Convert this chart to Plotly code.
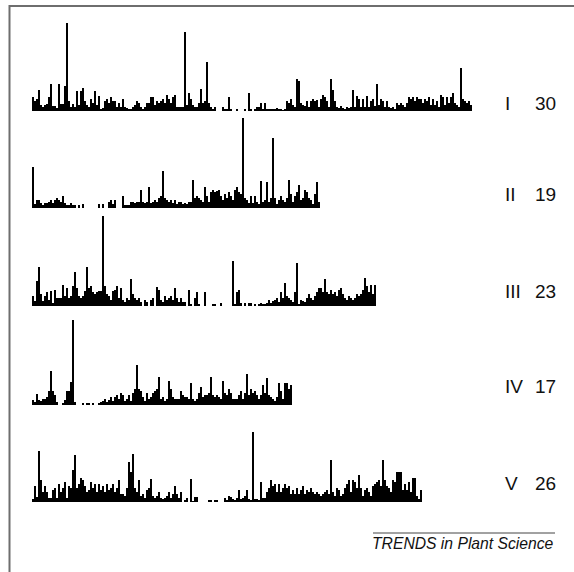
import plotly.graph_objects as go

# Marker counts per bin along each chromosome (bin index = position along chromosome)
chr_I = [14,10,12,21,6,4,6,7,14,27,
 5,5,3,27,7,7,25,88,10,4,
 7,4,20,6,20,23,10,6,4,12,
 8,20,6,15,2,3,10,12,8,14,
 10,10,4,8,4,12,4,3,2,2,
 4,6,10,8,4,2,4,8,8,14,
 14,6,10,8,10,12,8,16,12,8,
 14,16,4,4,4,4,79,6,18,12,
 6,4,4,8,22,8,10,49,8,4,
 2,4,0,0,0,4,2,2,14,2,
 0,0,2,0,0,0,2,0,18,2,
 0,2,4,4,8,2,8,2,2,2,
 2,2,3,2,2,1,2,10,8,12,
 6,4,32,30,8,6,5,10,4,10,
 12,10,11,4,12,16,14,10,4,32,
 21,10,4,3,5,3,2,4,3,4,
 21,4,15,12,4,12,4,15,4,10,
 12,5,27,6,12,10,4,10,4,3,
 4,2,8,6,8,6,4,8,14,12,
 14,10,14,12,12,8,12,10,14,6,
 12,6,10,4,16,14,6,14,8,14,
 18,8,6,4,43,12,10,8,10,6]

chr_II = [41,4,8,8,5,3,5,5,6,8,
 5,8,10,8,6,12,5,3,3,5,
 3,3,0,3,0,4,0,0,0,0,
 0,0,0,4,0,4,0,0,6,8,
 4,8,0,0,0,12,3,3,3,6,
 6,5,6,6,18,6,5,6,21,5,
 6,8,6,10,12,37,10,8,6,8,
 5,8,4,6,6,4,5,4,6,6,
 28,10,12,10,8,6,21,12,6,16,
 18,16,17,18,12,8,14,10,16,12,
 8,18,21,16,14,90,10,8,5,12,
 5,12,6,4,27,6,8,26,6,10,
 70,10,4,8,12,8,6,10,28,14,
 6,12,16,23,8,10,18,16,10,8,
 4,14,26,6]

chr_III = [10,5,25,39,12,5,10,14,6,15,
 3,16,8,8,8,21,10,18,8,10,
 20,34,18,10,8,10,15,39,18,20,
 14,12,14,15,15,90,20,12,10,6,
 15,16,20,8,18,6,4,8,6,27,
 12,8,6,8,4,0,6,4,0,6,
 8,0,19,16,6,4,10,6,8,10,
 6,18,8,4,8,4,4,0,16,2,
 0,8,14,2,0,0,14,0,0,0,
 2,2,0,0,3,0,0,0,0,0,
 45,2,14,16,3,0,3,0,3,3,
 0,2,0,2,3,2,2,3,6,3,
 5,6,8,4,14,8,23,10,8,6,
 4,14,43,2,6,5,4,8,12,8,
 6,10,14,18,18,14,27,14,12,16,
 12,14,10,16,18,12,8,6,10,8,
 6,8,12,10,12,16,28,20,14,21,
 12,21]

chr_IV = [5,3,11,5,4,6,6,8,14,34,
 14,10,3,0,0,2,5,14,14,23,
 85,3,0,0,0,2,0,2,2,0,
 2,0,0,2,3,4,6,3,5,8,
 4,8,10,6,12,10,4,6,10,4,
 12,16,40,16,14,8,4,12,6,8,
 12,14,16,28,6,8,4,6,24,16,
 8,6,6,6,14,10,8,8,6,22,
 6,4,6,12,18,8,10,10,12,28,
 10,8,10,8,6,24,12,10,16,12,
 6,6,6,10,14,6,12,31,10,16,
 12,14,10,6,10,20,12,27,10,8,
 6,4,8,22,14,6,22,22,16,20]

chr_V = [3,16,5,51,22,10,16,10,4,4,
 12,14,4,18,10,14,20,4,16,14,
 32,47,14,18,24,22,16,10,12,20,
 14,18,10,18,12,16,10,18,12,14,
 18,10,14,22,8,8,6,14,40,30,
 48,14,10,22,6,8,4,12,14,23,
 6,4,6,10,4,3,4,6,10,4,
 8,16,8,4,10,0,2,4,0,23,
 1,5,5,0,0,0,0,0,2,2,
 0,2,2,0,0,0,4,2,6,5,
 3,2,4,12,3,4,6,12,3,2,
 70,3,3,2,20,4,4,10,14,22,
 16,18,10,18,10,14,18,14,16,8,
 12,8,14,8,12,16,8,12,10,14,
 10,8,10,8,6,8,10,12,8,42,
 10,6,14,12,6,8,14,18,22,10,
 22,20,14,27,14,6,12,14,10,6,
 16,18,20,22,16,42,22,16,14,10,
 22,20,30,30,30,12,18,12,20,10,
 24,24,6,3,12]

chrom_names = ["I", "II", "III", "IV", "V"]
chrom_sizes = ["30", "19", "23", "17", "26"]
series = [chr_I, chr_II, chr_III, chr_IV, chr_V]

W, H = 574, 572
baselines = [111, 208, 306, 405, 502]     # px from top
label_y = [103, 195, 291, 386, 483]       # px from top
row_h = 95

fig = go.Figure()
layout = dict(
    width=W, height=H,
    margin=dict(l=0, r=0, t=0, b=0),
    paper_bgcolor="white", plot_bgcolor="white",
    showlegend=False, bargap=0,
)
for k, vals in enumerate(series):
    idx = "" if k == 0 else str(k + 1)
    fig.add_trace(go.Bar(
        x=list(range(len(vals))), y=vals, width=1,
        marker=dict(color="black", line=dict(width=0)),
        xaxis="x" + idx, yaxis="y" + idx, hoverinfo="skip",
    ))
    bottom = 1 - baselines[k] / H
    layout["xaxis" + idx] = dict(domain=[32 / W, 1], range=[-0.5, 270.5],
                                 visible=False, fixedrange=True)
    layout["yaxis" + idx] = dict(domain=[bottom, bottom + row_h / H],
                                 range=[0, row_h], visible=False, fixedrange=True)
fig.update_layout(**layout)

font = dict(family="Liberation Sans, Arial, sans-serif", size=19, color="#111")
for k in range(5):
    fig.add_annotation(text=chrom_names[k], xref="paper", yref="paper",
                       x=503 / W, y=1 - label_y[k] / H, xanchor="left",
                       yanchor="middle", showarrow=False, font=font)
    fig.add_annotation(text=chrom_sizes[k], xref="paper", yref="paper",
                       x=533 / W, y=1 - label_y[k] / H, xanchor="left",
                       yanchor="middle", showarrow=False, font=font)

fig.add_annotation(text="<i>TRENDS in Plant Science</i>", xref="paper", yref="paper",
                   x=463 / W, y=1 - 543 / H, xanchor="center", yanchor="middle",
                   showarrow=False,
                   font=dict(family="Liberation Sans, Arial, sans-serif", size=15.7, color="#111"))

# frame (left and top edges) and rule above the caption
fx = 9.5 / W
fy = 1 - 6 / H
fig.add_shape(type="path", xref="paper", yref="paper",
              path=f"M {fx},0 L {fx},{fy} L 1,{fy}",
              line=dict(color="#6e6e6e", width=2))
fig.add_shape(type="line", xref="paper", yref="paper",
              x0=373 / W, x1=555 / W, y0=1 - 533 / H, y1=1 - 533 / H,
              line=dict(color="#444", width=1))

fig.write_html("out.html", config={"displayModeBar": False},
               post_script="document.body.style.margin='0';")
